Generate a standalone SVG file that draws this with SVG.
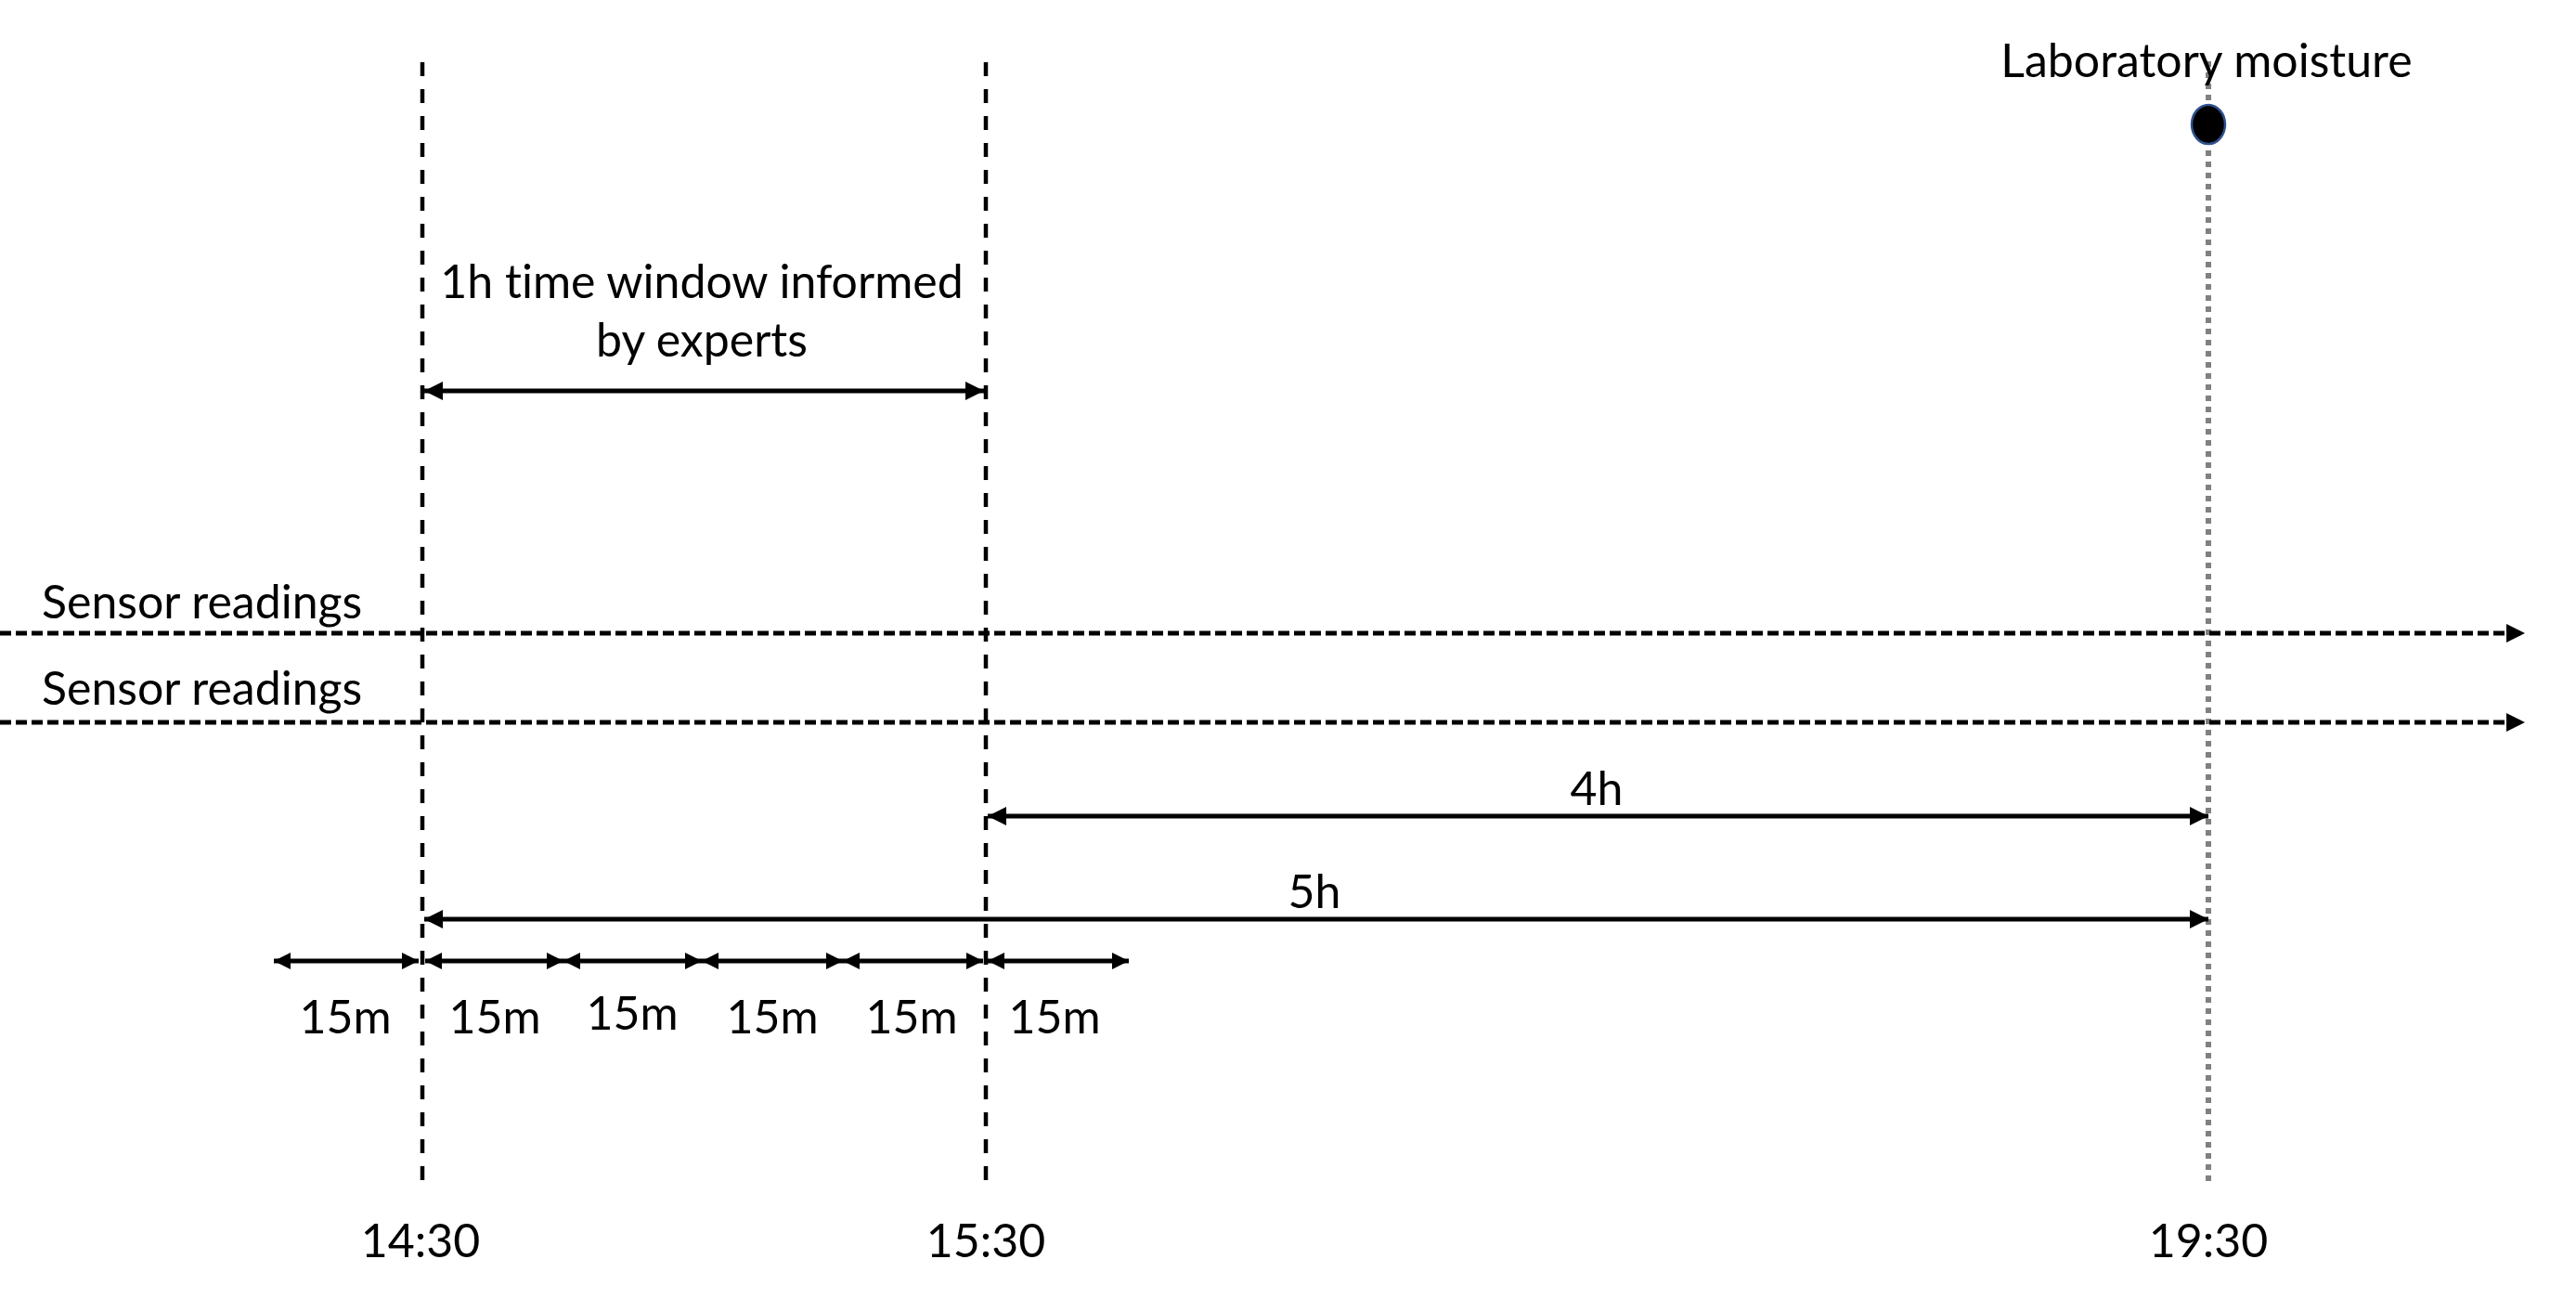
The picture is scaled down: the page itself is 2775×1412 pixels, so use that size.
<svg xmlns="http://www.w3.org/2000/svg" width="2775" height="1412" viewBox="0 0 2775 1412">
<style>
text{font-family:Lato,"Open Sans","Liberation Sans",sans-serif;font-size:50px;fill:#000;font-variant-ligatures:none}
.mid{text-anchor:middle}
.vdash{stroke:#000;stroke-width:4.5;stroke-dasharray:15 14;fill:none}
.hdash{stroke:#000;stroke-width:5;stroke-dasharray:12 5;fill:none}
.dot{stroke:#808080;stroke-width:6;stroke-dasharray:6 6;fill:none}
.arr{stroke:#000;stroke-width:5;fill:none}
</style>
<defs>
<marker id="ah" viewBox="0 0 20 20" refX="20" refY="10" markerWidth="20" markerHeight="20" markerUnits="userSpaceOnUse" orient="auto-start-reverse">
<path d="M0,0 L20,10 L0,20 Z" fill="#000"/>
</marker>
<marker id="ahs" viewBox="0 0 18 18" refX="18" refY="9" markerWidth="18" markerHeight="18" markerUnits="userSpaceOnUse" orient="auto-start-reverse">
<path d="M0,0 L18,9 L0,18 Z" fill="#000"/>
</marker>
</defs>
<rect width="2775" height="1412" fill="#fff"/>

<g id="connectors">
<line id="t1430" class="vdash" x1="455" y1="67" x2="455" y2="1274"/>
<line id="t1530" class="vdash" x1="1062" y1="67" x2="1062" y2="1274"/>
<line id="t1930" class="dot" x1="2379" y1="66" x2="2379" y2="1274"/>
<line id="sensor1" class="hdash" x1="0" y1="682" x2="2720" y2="682" marker-end="url(#ah)"/>
<line id="sensor2" class="hdash" x1="0" y1="778" x2="2720" y2="778" marker-end="url(#ah)"/>
<line id="win1h" class="arr" x1="457" y1="421" x2="1060" y2="421" marker-start="url(#ah)" marker-end="url(#ah)"/>
<line id="a4h" class="arr" x1="1064" y1="879" x2="2379" y2="879" marker-start="url(#ah)" marker-end="url(#ah)"/>
<line id="a5h" class="arr" x1="457" y1="990" x2="2379" y2="990" marker-start="url(#ah)" marker-end="url(#ah)"/>
<line class="arr" x1="295" y1="1035" x2="451" y2="1035" marker-start="url(#ahs)" marker-end="url(#ahs)"/>
<line class="arr" x1="458" y1="1035" x2="607" y2="1035" marker-start="url(#ahs)" marker-end="url(#ahs)"/>
<line class="arr" x1="607" y1="1035" x2="756" y2="1035" marker-start="url(#ahs)" marker-end="url(#ahs)"/>
<line class="arr" x1="756" y1="1035" x2="908" y2="1035" marker-start="url(#ahs)" marker-end="url(#ahs)"/>
<line class="arr" x1="908" y1="1035" x2="1059" y2="1035" marker-start="url(#ahs)" marker-end="url(#ahs)"/>
<line class="arr" x1="1064" y1="1035" x2="1216" y2="1035" marker-start="url(#ahs)" marker-end="url(#ahs)"/>
</g>

<g id="lab-moisture">
<text class="mid" x="2377" y="83">Laboratory moisture</text>
<ellipse cx="2379" cy="134" rx="18" ry="21" fill="#000" stroke="#2f528f" stroke-width="2.5"/>
</g>

<g id="window-label">
<text class="mid" x="756" y="321">1h time window informed</text>
<text class="mid" x="756" y="384">by experts</text>
</g>

<g id="sensor-labels">
<text x="45" y="666">Sensor readings</text>
<text x="45" y="759">Sensor readings</text>
</g>

<g id="duration-labels">
<text class="mid" x="1720" y="867">4h</text>
<text class="mid" x="1416" y="978">5h</text>
<text class="mid" x="372" y="1113">15m</text>
<text class="mid" x="533" y="1113">15m</text>
<text class="mid" x="681" y="1109">15m</text>
<text class="mid" x="832" y="1113">15m</text>
<text class="mid" x="982" y="1113">15m</text>
<text class="mid" x="1136" y="1113">15m</text>
</g>

<g id="time-labels">
<text class="mid" x="453" y="1354">14:30</text>
<text class="mid" x="1062" y="1354">15:30</text>
<text class="mid" x="2379" y="1354">19:30</text>
</g>
</svg>
